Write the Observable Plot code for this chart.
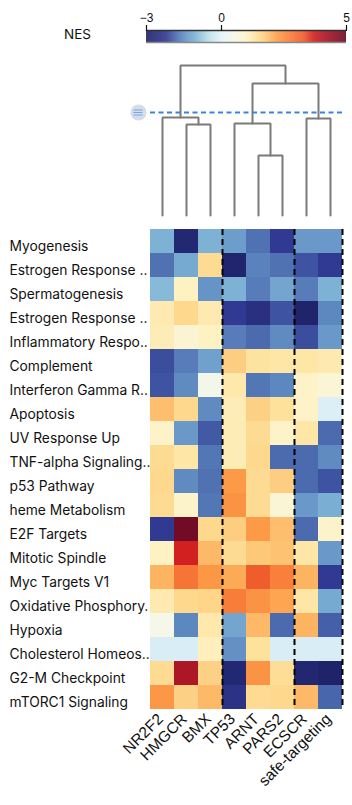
<!DOCTYPE html>
<html>
<head>
<meta charset="utf-8">
<script src="https://cdn.jsdelivr.net/npm/d3@7"></script>
<script src="https://cdn.jsdelivr.net/npm/@observablehq/plot@0.6"></script>
<style>
html,body{margin:0;padding:0;background:#fff;width:352px;height:805px;overflow:hidden}
#root{position:relative;width:352px;height:805px}
#root svg{display:block;position:absolute;left:0;overflow:visible;max-width:none}
#nes{position:absolute;left:64px;top:26px;font:13.5px/16px Inter,sans-serif;color:#111}
</style>
</head>
<body>
<div id="root"><div id="nes">NES</div></div>
<script>
const columns = ["NR2F2","HMGCR","BMX","TP53","ARNT","PARS2","ECSCR","safe-targeting"];
const rows = ["Myogenesis","Estrogen Response Late","Spermatogenesis","Estrogen Response Early","Inflammatory Response","Complement","Interferon Gamma Response","Apoptosis","UV Response Up","TNF-alpha Signaling via NF-kB","p53 Pathway","heme Metabolism","E2F Targets","Mitotic Spindle","Myc Targets V1","Oxidative Phosphorylation","Hypoxia","Cholesterol Homeostasis","G2-M Checkpoint","mTORC1 Signaling"];
const rowLabels = ["Myogenesis","Estrogen Response ..","Spermatogenesis","Estrogen Response ..","Inflammatory Respo..","Complement","Interferon Gamma R..","Apoptosis","UV Response Up","TNF-alpha Signaling..","p53 Pathway","heme Metabolism","E2F Targets","Mitotic Spindle","Myc Targets V1","Oxidative Phosphory.","Hypoxia","Cholesterol Homeos..","G2-M Checkpoint","mTORC1 Signaling"];
const nes = [
 [-1.05,-2.8,-1.05,-1.3,-1.75,-2.2,-1.35,-1.35],
 [-1.75,-1.15,1.5,-2.9,-1.6,-1.75,-2.0,-2.2],
 [-0.95,1.05,-1.4,-1.05,-1.65,-1.2,-1.65,-1.05],
 [1.2,1.55,1.2,-2.2,-2.5,-2.0,-2.95,-1.55],
 [1.15,0.85,1.05,-1.65,-1.8,-1.5,-2.05,-1.35],
 [-2.05,-1.65,-1.25,1.7,1.35,1.3,1.3,1.2],
 [-2.0,-1.5,0.45,1.25,-1.7,-1.55,1.0,0.8],
 [1.9,1.55,-1.5,1.15,1.65,1.4,1.0,-0.1],
 [1.0,-1.35,-1.95,1.15,1.5,1.0,1.3,-1.8],
 [1.5,1.3,-1.7,1.15,1.55,-1.8,-1.8,-1.5],
 [1.55,-1.5,-1.75,2.3,1.5,1.7,-1.8,-2.0],
 [1.5,0.95,-1.7,2.4,1.5,0.8,-1.35,-1.1],
 [-2.2,4.9,1.55,1.7,2.3,1.9,-1.8,0.95],
 [1.05,3.7,1.95,1.5,1.8,1.85,1.3,-1.35],
 [2.0,2.9,2.35,2.1,3.25,2.7,2.0,-2.2],
 [1.2,1.55,1.6,2.75,2.4,2.15,1.3,-1.15],
 [0.5,-1.55,1.25,-1.2,1.95,-1.8,2.0,-1.9],
 [-0.15,-0.15,1.1,-1.45,1.4,-0.15,-0.15,-0.15],
 [1.5,4.15,1.65,-2.8,2.4,1.45,-2.85,-3.0],
 [2.35,1.65,1.95,-2.4,1.5,1.55,1.95,-1.85]
];
const colorStops = [-3,-2.5,-2.2,-1.9,-1.6,-1.3,-1,-0.5,0,0.5,1,1.4,1.8,2.2,2.8,3.3,3.7,4.2,5];
const colorValues = ["#1f2369","#2a2f80","#313a92","#4560a8","#5a82bc","#6d9dcb","#80b6d6","#bcdeeb","#e4f3f9","#f5f7e8","#fef3c8","#fee19a","#fdc878","#fda04a","#f87a38","#ee5a2c","#d22020","#a81525","#6a0a25"];
const colorTicks = [-3,0,5];
const cutoff = 103;
// merges: left position, right position, height, left child height, right child height
const merges = [
 [1,2,91,0,0],
 [0,1.5,98,0,91],
 [4,5,60,0,0],
 [3,4.5,92,0,60],
 [6,7,97,0,0],
 [3.75,6.5,132,92,97],
 [0.75,5.125,150,98,132]
];
const handleLines = [100.5,103,105.5];
const handleX = -1;

const color = {type:"linear", domain:colorStops, range:colorValues, interpolate:"rgb"};
const root = document.getElementById("root");
function add(svg, top){ svg.style.top = top+"px"; root.appendChild(svg); }

// colour bar
const step = 0.02;
const ramp = d3.range(-3,5,step);
add(Plot.plot({
  width:352,height:50,marginTop:30,marginBottom:8,marginLeft:0,marginRight:0,
  style:{fontFamily:"'Liberation Sans',Arial,sans-serif",fontSize:"12px",color:"#111",background:"transparent"},
  x:{domain:[-3,5],range:[146,346]},
  y:{domain:[0,1],axis:null},
  color,
  marks:[
    Plot.rect(ramp,{x1:d=>d,x2:d=>Math.min(5,d+step*1.5),y1:0,y2:1,fill:d=>d}),
    Plot.ruleY([1],{x1:-3,x2:5,stroke:"#333",strokeWidth:1.5}),
    Plot.ruleY([0],{x1:-3,x2:5,stroke:"#888",strokeWidth:1.5}),
    Plot.axisX({anchor:"top",ticks:colorTicks,tickSize:6,tickPadding:3,label:null,stroke:"#111",strokeWidth:1.2,fontSize:12,tickFormat:d=>d<0?"\u2212"+(-d):String(d)})
  ]
}),0);

// dendrogram
const paths = merges.map(([a,b,h,ha,hb],i)=>[{x:a,y:ha,i},{x:a,y:h,i},{x:b,y:h,i},{x:b,y:hb,i}]).flat();
add(Plot.plot({
  width:352,height:179,marginTop:0,marginBottom:14,marginLeft:0,marginRight:0,
  x:{domain:[0,7],range:[162,330],axis:null},
  y:{domain:[0,165],axis:null},
  style:{background:"transparent"},
  marks:[
    Plot.line(paths,{x:"x",y:"y",z:"i",stroke:"#7a7a7a",strokeWidth:2,curve:"linear",strokeLinejoin:"miter"}),
    Plot.ruleY([cutoff],{x1:-0.5,x2:7.5,stroke:"#3b82dc",strokeWidth:2,strokeDasharray:"5 3.5"}),
    Plot.dot([handleX],{x:d=>d,y:cutoff,r:8,fill:"#d6dde6",stroke:"none"}),
    Plot.ruleY(handleLines,{x1:handleX-0.19,x2:handleX+0.19,stroke:"#6ea8f2",strokeWidth:1})
  ]
}),50);

// heat map
const table = rows.flatMap((r,i)=>columns.map((c,j)=>({row:r,col:c,value:nes[i][j]})));
const labelOf = new Map(rows.map((r,i)=>[r,rowLabels[i]]));
add(Plot.plot({
  width:352,height:576,marginTop:0,marginBottom:96,marginLeft:150,marginRight:10,
  style:{fontFamily:"Inter,sans-serif",fontSize:"14px",color:"#111",background:"transparent"},
  x:{domain:columns,padding:0,label:null},
  y:{domain:rows,padding:0,label:null},
  color,
  marks:[
    Plot.cell(table,{x:"col",y:"row",fill:"value"}),
    Plot.ruleX(["BMX","PARS2","safe-targeting"],{x:d=>d,dx:12,stroke:"#000",strokeWidth:2,strokeDasharray:"6 4"}),
    Plot.axisY({anchor:"left",tickSize:0,textAnchor:"start",dx:-132,dy:5,label:null,tickFormat:d=>labelOf.get(d),fontSize:13.8,fontFamily:"Inter,sans-serif",fontVariant:"normal"}),
    Plot.axisX({anchor:"bottom",tickSize:0,tickRotate:-45,tickPadding:7,dx:-2,label:null,fontSize:15.5,fontFamily:"'Liberation Sans',Arial,sans-serif"})
  ]
}),229);
</script>
</body>
</html>
